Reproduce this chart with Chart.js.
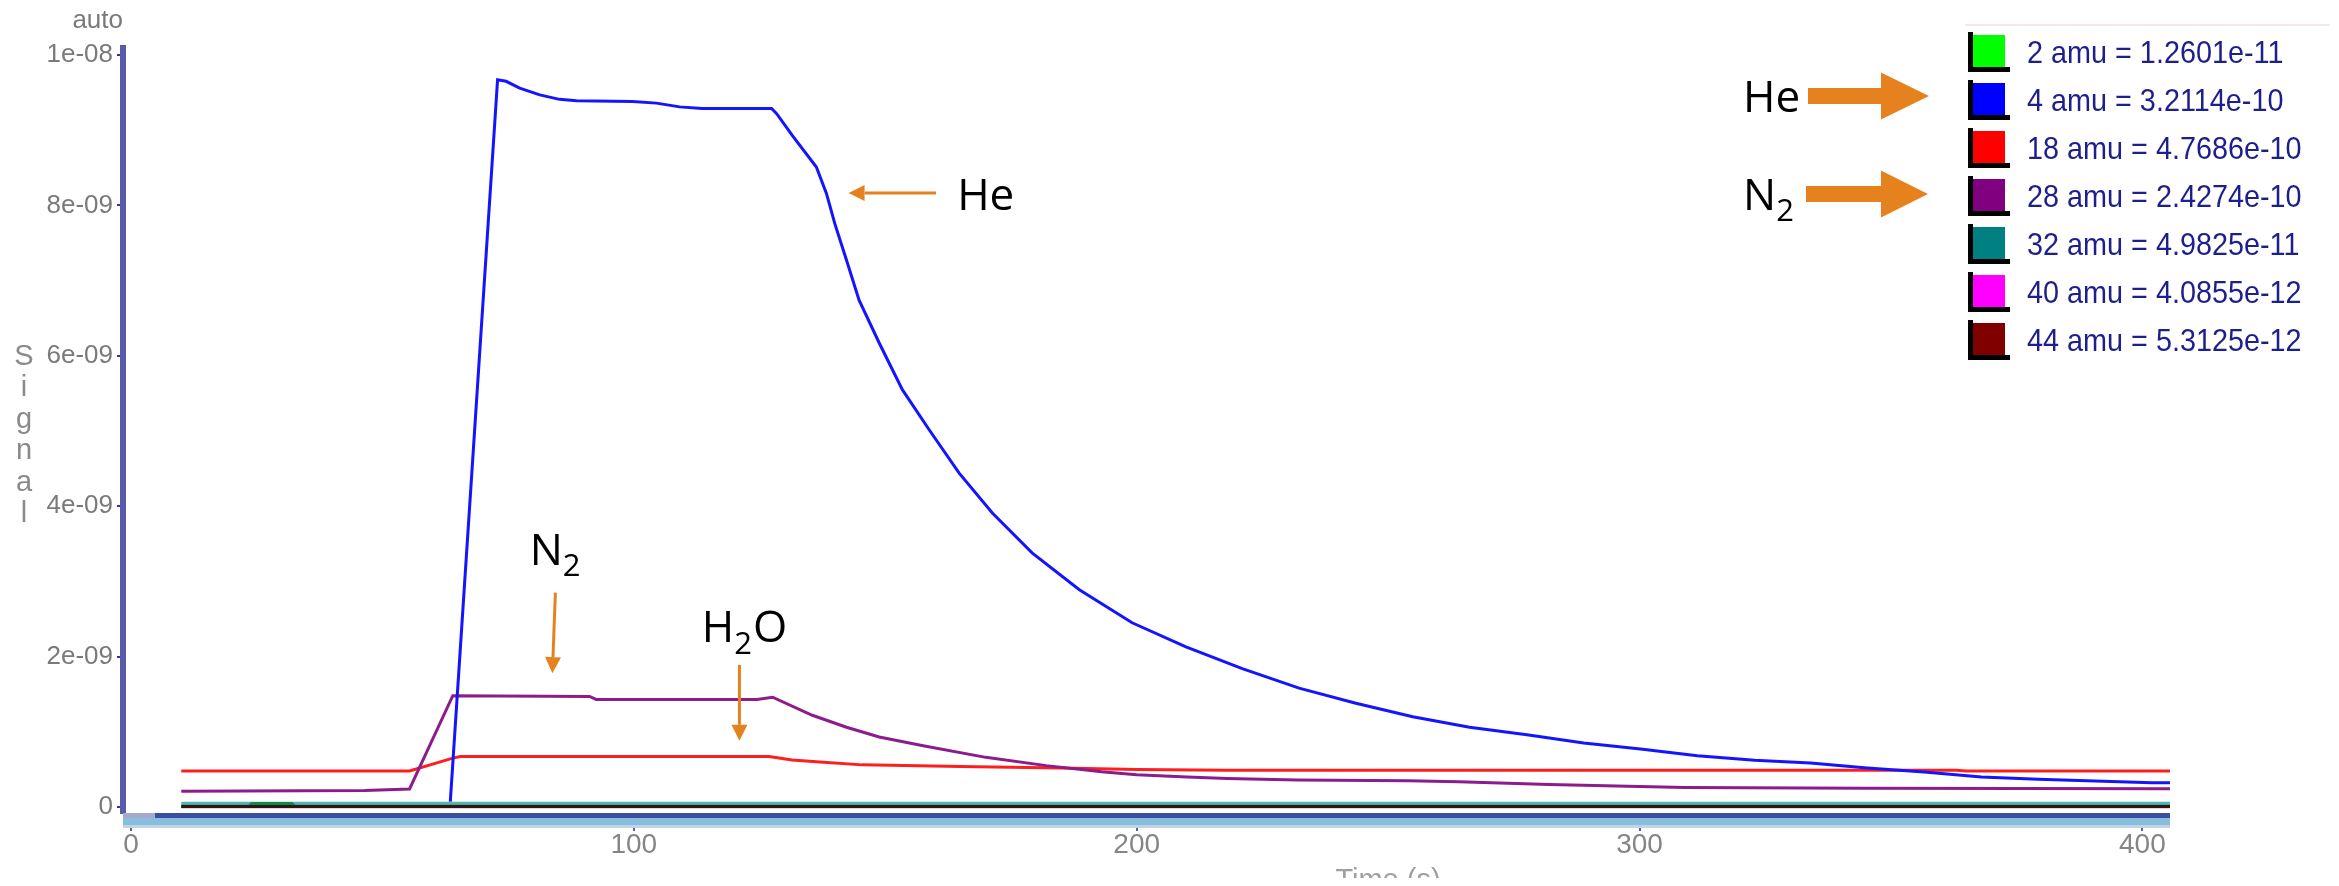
<!DOCTYPE html>
<html>
<head>
<meta charset="utf-8">
<title>Signal vs time</title>
<script src="https://cdn.jsdelivr.net/npm/chart.js@4.4.1/dist/chart.umd.min.js"></script>
<style>
  html, body { margin: 0; padding: 0; background: #ffffff; overflow: hidden; }
  canvas { display: block; }
</style>
</head>
<body>
<canvas id="trend" width="2339" height="886"></canvas>
<script>
// ---- mass channels ----
const channelNames  = ['2 amu', '4 amu', '18 amu', '28 amu', '32 amu', '40 amu', '44 amu'];
const swatchColors  = ['#00ff00', '#0000ff', '#ff0000', '#800080', '#008080', '#ff00ff', '#800000'];

// ---- time (s) and signal for each channel ----
const amu2Time    = [10, 23.5, 24, 32, 32.5, 405.5];
const amu2Signal  = [1.26e-11, 1.26e-11, 4.5e-11, 4.5e-11, 1.26e-11, 1.2601e-11];

const amu4Time    = [63.5, 72.9, 74.6, 77.3, 81.3, 85.2, 88.6, 99.7, 104.5, 109.1, 113.6, 127.4, 128.4,
                     131.5, 136.3, 138.3, 140.0, 142.3, 144.8, 148.8, 153.4, 158.8, 164.7, 171.3,
                     179.2, 188.6, 199.1, 209.8, 221, 232.3, 243.6, 254.9, 266.2, 277.6, 288.9, 300.2, 311.5,
                     322.9, 334.0, 345.3, 356.6, 368.0, 379.3, 390.6, 401.9, 405.5];
const amu4Signal  = [7e-11, 9.67e-9, 9.65e-9, 9.56e-9, 9.47e-9, 9.41e-9, 9.39e-9, 9.38e-9, 9.36e-9, 9.31e-9,
                     9.29e-9, 9.29e-9, 9.22e-9, 8.93e-9, 8.51e-9, 8.16e-9, 7.75e-9, 7.27e-9,
                     6.74e-9, 6.17e-9, 5.55e-9, 5.01e-9, 4.44e-9, 3.91e-9, 3.38e-9, 2.89e-9, 2.45e-9, 2.13e-9,
                     1.84e-9, 1.58e-9, 1.38e-9, 1.20e-9, 1.06e-9, 9.6e-10, 8.5e-10, 7.7e-10, 6.8e-10, 6.2e-10,
                     5.85e-10, 5.2e-10, 4.65e-10, 4.0e-10, 3.7e-10, 3.45e-10, 3.22e-10, 3.2114e-10];

const amu18Time   = [10, 55.4, 64.0, 65.5, 126.9, 131.5, 136.3, 145.4, 165, 185, 200, 218, 363, 365, 405.5];
const amu18Signal = [4.8e-10, 4.8e-10, 6.5e-10, 6.7e-10, 6.7e-10, 6.25e-10, 6.0e-10, 5.6e-10, 5.4e-10, 5.2e-10,
                     5.0e-10, 4.9e-10, 4.9e-10, 4.77e-10, 4.7686e-10];

const amu28Time   = [10, 46.5, 55.4, 64.0, 91.2, 92.5, 124.5, 127.6, 135.5, 142.3, 148.8, 157.8, 170, 182, 193,
                     200, 210, 218, 232, 254, 264, 282, 309, 345, 405.5];
const amu28Signal = [2.1e-10, 2.2e-10, 2.4e-10, 1.48e-9, 1.47e-9, 1.43e-9, 1.43e-9, 1.46e-9, 1.22e-9, 1.06e-9,
                     9.3e-10, 8.1e-10, 6.6e-10, 5.5e-10, 4.7e-10, 4.3e-10, 4.0e-10, 3.8e-10, 3.6e-10, 3.5e-10,
                     3.35e-10, 3.0e-10, 2.6e-10, 2.5e-10, 2.4274e-10];

const amu32Time   = [10, 405.5];
const amu32Signal = [4.98e-11, 4.9825e-11];

const amu40Time   = [10, 405.5];
const amu40Signal = [4.1e-12, 4.0855e-12];

const amu44Time   = [10, 405.5];
const amu44Signal = [5.3e-12, 5.3125e-12];

// ---- axes ----
const xTickValues = [0, 100, 200, 300, 400];
const xTickLabels = ['0', '100', '200', '300', '400'];
const yTickValues = [0, 2e-9, 4e-9, 6e-9, 8e-9, 1e-8];
const yTickLabels = ['0', '2e-09', '4e-09', '6e-09', '8e-09', '1e-08'];

const TICK_FONT = "'Liberation Sans', Arial, sans-serif";
const NOTE_FONT = "'Open Sans', 'Lato', sans-serif";
const ORANGE = '#e6821e';

function points(times, values) {
  return times.map((t, i) => ({ x: t, y: values[i] }));
}

// trace styling: line colour, stacking order (lower draws on top)
const traces = [
  { times: amu2Time,  values: amu2Signal,  line: '#0c8a46', order: 5 },
  { times: amu4Time,  values: amu4Signal,  line: '#1414ff', order: 0 },
  { times: amu18Time, values: amu18Signal, line: '#ff1e1e', order: 2 },
  { times: amu28Time, values: amu28Signal, line: '#8c1c8c', order: 1 },
  { times: amu32Time, values: amu32Signal, line: '#4fb6b6', order: 6 },
  { times: amu40Time, values: amu40Signal, line: '#b04080', order: 4 },
  { times: amu44Time, values: amu44Signal, line: '#301414', order: 3 }
];

const datasets = traces.map((tr, i) => ({
  label: channelNames[i],
  data: points(tr.times, tr.values),
  borderColor: tr.line,
  backgroundColor: swatchColors[i],
  borderWidth: 3,
  pointRadius: 0,
  tension: 0,
  fill: false,
  order: tr.order
}));

// ---- helpers for the overlay ----
function thinArrow(ctx, x1, y1, x2, y2) {
  const ang = Math.atan2(y2 - y1, x2 - x1);
  const len = 16, half = 8;
  const bx = x2 - len * Math.cos(ang), by = y2 - len * Math.sin(ang);
  ctx.strokeStyle = ORANGE;
  ctx.fillStyle = ORANGE;
  ctx.lineWidth = 3;
  ctx.beginPath();
  ctx.moveTo(x1, y1);
  ctx.lineTo(bx, by);
  ctx.stroke();
  ctx.beginPath();
  ctx.moveTo(x2, y2);
  ctx.lineTo(bx + half * Math.sin(ang), by - half * Math.cos(ang));
  ctx.lineTo(bx - half * Math.sin(ang), by + half * Math.cos(ang));
  ctx.closePath();
  ctx.fill();
}

function blockArrow(ctx, x0, xHead, xTip, cy) {
  ctx.fillStyle = ORANGE;
  ctx.beginPath();
  ctx.moveTo(x0, cy - 8);
  ctx.lineTo(xHead, cy - 8);
  ctx.lineTo(xHead, cy - 23.5);
  ctx.lineTo(xTip, cy);
  ctx.lineTo(xHead, cy + 23.5);
  ctx.lineTo(xHead, cy + 8);
  ctx.lineTo(x0, cy + 8);
  ctx.closePath();
  ctx.fill();
}

// text with an optional subscript, e.g. ['N', '2'] or ['H', '2', 'O']
function formula(ctx, parts, x, baseline, size) {
  let cx = x;
  parts.forEach(p => {
    const sub = /^[0-9]$/.test(p);
    ctx.font = (sub ? Math.round(size * 0.7) : size) + 'px ' + NOTE_FONT;
    ctx.fillStyle = '#000000';
    ctx.textAlign = 'left';
    ctx.textBaseline = 'alphabetic';
    ctx.fillText(p, cx, sub ? baseline + size * 0.26 : baseline);
    cx += ctx.measureText(p).width + (sub ? 1 : 0);
  });
}

const overlay = {
  id: 'overlay',
  afterDraw(chart) {
    const { ctx, chartArea: a, scales: { x, y } } = chart;
    ctx.save();

    // strip under the plot
    ctx.fillStyle = '#a8a8cc';
    ctx.fillRect(a.left, a.bottom, 32, 5);
    ctx.fillStyle = '#3a4fa0';
    ctx.fillRect(a.left + 32, a.bottom, a.right - a.left - 32, 5);
    ctx.fillStyle = '#88bedd';
    ctx.fillRect(a.left, a.bottom + 5, a.right - a.left, 7);
    ctx.fillStyle = '#c2d3e4';
    ctx.fillRect(a.left, a.bottom + 12, a.right - a.left, 3);

    // "auto" caption
    ctx.fillStyle = '#7a7a7a';
    ctx.font = '26px ' + TICK_FONT;
    ctx.textAlign = 'right';
    ctx.textBaseline = 'alphabetic';
    ctx.fillText('auto', a.left, 28);

    // stacked y title
    ctx.textAlign = 'center';
    ctx.fillStyle = '#8a8a8a';
    ctx.font = '29px ' + TICK_FONT;
    'Signal'.split('').forEach((ch, i) => ctx.fillText(ch, 24, 365 + i * 31.4));

    // x title (partly cut by the window edge)
    ctx.save();
    ctx.beginPath();
    ctx.rect(0, 0, chart.width, 878);
    ctx.clip();
    ctx.fillStyle = '#a0a0a0';
    ctx.font = '29px ' + TICK_FONT;
    ctx.textAlign = 'center';
    ctx.fillText('Time (s)', 1388, 889);
    ctx.restore();

    // legend
    const lgX = 1968, lgY = 51, rowH = 48;
    ctx.strokeStyle = '#f2e8ee';
    ctx.lineWidth = 2;
    ctx.beginPath();
    ctx.moveTo(1965, 25);
    ctx.lineTo(2330, 25);
    ctx.stroke();
    channelNames.forEach((name, i) => {
      const cy = lgY + i * rowH;
      const vals = traces[i].values;
      ctx.fillStyle = swatchColors[i];
      ctx.fillRect(lgX + 5, cy - 16, 32, 32);
      ctx.fillStyle = '#000000';
      ctx.fillRect(lgX, cy - 19, 5, 40);
      ctx.fillRect(lgX, cy + 16, 42, 5);
      ctx.save();
      ctx.translate(2027, cy + 12);
      ctx.scale(0.9, 1);
      ctx.font = '32px ' + TICK_FONT;
      ctx.fillStyle = '#1e1e8c';
      ctx.textAlign = 'left';
      ctx.textBaseline = 'alphabetic';
      ctx.fillText(name + ' = ' + vals[vals.length - 1].toExponential(4), 0, 0);
      ctx.restore();
    });

    // markers beside the legend
    formula(ctx, ['He'], 1743, 112, 44);
    blockArrow(ctx, 1808, 1881, 1929, lgY + rowH - 3);
    formula(ctx, ['N', '2'], 1743, 210, 44);
    blockArrow(ctx, 1806, 1881, 1928, lgY + 3 * rowH - 1);

    // markers inside the plot, anchored to time / signal
    const px = t => x.getPixelForValue(t);
    const py = v => y.getPixelForValue(v);
    thinArrow(ctx, px(160.1), py(8.165e-9), px(142.7), py(8.165e-9));
    formula(ctx, ['He'], px(164.3), py(7.94e-9), 44);
    formula(ctx, ['N', '2'], px(79.3), py(3.22e-9), 44);
    thinArrow(ctx, px(84.4), py(2.85e-9), px(83.8), py(1.78e-9));
    formula(ctx, ['H', '2', 'O'], px(113.5), py(2.19e-9), 44);
    thinArrow(ctx, px(121.0), py(1.89e-9), px(121.0), py(0.88e-9));

    ctx.restore();
  }
};

new Chart(document.getElementById('trend'), {
  type: 'line',
  data: { datasets },
  options: {
    responsive: false,
    animation: false,
    devicePixelRatio: 1,
    layout: { padding: { top: 48, right: 169, left: 0, bottom: 0 } },
    plugins: { legend: { display: false }, tooltip: { enabled: false } },
    scales: {
      x: {
        type: 'linear',
        min: -1.59,
        max: 405.5,
        afterFit: s => { s.height = 73; },
        afterBuildTicks: s => { s.ticks = xTickValues.map(v => ({ value: v })); },
        border: { display: false },
        grid: { drawOnChartArea: false, drawTicks: true, tickLength: 18, color: '#5062b0', lineWidth: 2 },
        ticks: {
          padding: -3,
          color: '#858585',
          font: { family: TICK_FONT, size: 28 },
          maxRotation: 0,
          callback: (v, i) => xTickLabels[i]
        }
      },
      y: {
        type: 'linear',
        min: -0.08e-9,
        max: 1.0093e-8,
        afterFit: s => { s.width = 123; },
        afterBuildTicks: s => { s.ticks = yTickValues.map(v => ({ value: v })); },
        border: { display: true, color: '#5a5aaa', width: 6 },
        grid: { drawOnChartArea: false, drawTicks: true, tickLength: 6, color: '#3434a0', lineWidth: 2 },
        ticks: {
          padding: 4,
          color: '#7a7a7a',
          font: { family: TICK_FONT, size: 26 },
          callback: (v, i) => yTickLabels[i]
        }
      }
    }
  },
  plugins: [overlay]
});
</script>
</body>
</html>
